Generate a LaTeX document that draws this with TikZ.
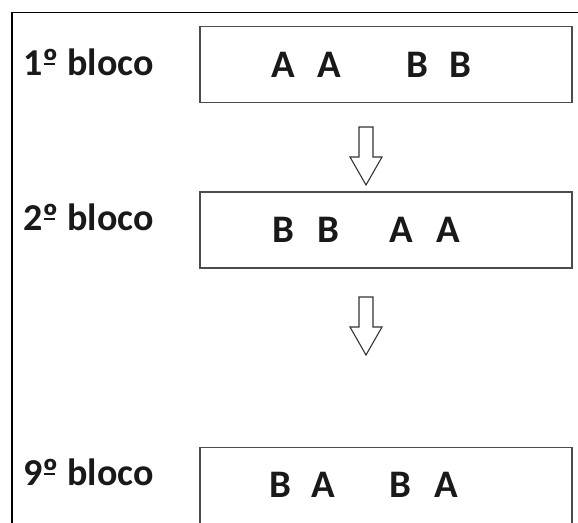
\documentclass[tikz,border=0pt]{standalone}
\usepackage{fontspec}
\setmainfont{Carlito}
\newcommand{\ordbar}{\makebox[0pt][l]{\hspace{0.03em}\rule[0.27em]{0.3em}{0.055em}}º}
\begin{document}
\begin{tikzpicture}[x=1pt,y=-1pt,
  blockbox/.style={draw=black!70,line width=1.8pt,fill=white,minimum width=372pt,minimum height=76pt,inner sep=0pt},
  blocklabel/.style={font=\bfseries\fontsize{38}{40}\selectfont,anchor=base west,inner sep=0pt,text=black!90},
  letters/.style={font=\bfseries\fontsize{39}{41}\selectfont,anchor=base west,inner sep=0pt,text=black!90},
  blockarrow/.style={draw=black!80,line width=1.1pt,fill=white,line join=miter}]
\useasboundingbox (0,0) rectangle (578,522);
\clip (0,0) rectangle (578,522);
\fill[white] (0,0) rectangle (578,522);
% outer frame
\draw[line width=1.4pt] (12,540) -- (12,12.5) -- (600,12.5);
% boxes
\node[blockbox] (b1) at (386,64.5) {};
\node[blockbox] (b2) at (386,230) {};
\node[blockbox] (b3) at (386,485.5) {};
% labels
\node[blocklabel] (l1) at (23,75) {1\ordbar{} bloco};
\node[blocklabel] (l2) at (23,230) {2\ordbar{} bloco};
\node[blocklabel] (l3) at (23,485) {9\ordbar{} bloco};
% letters
\node[letters] (t1) at (271,77) {\makebox[46pt][l]{A}\makebox[89pt][l]{A}\makebox[43pt][l]{B}B};
\node[letters] (t2) at (272,242) {\makebox[45pt][l]{B}\makebox[72pt][l]{B}\makebox[47pt][l]{A}A};
\node[letters] (t3) at (269,497) {\makebox[42pt][l]{B}\makebox[78pt][l]{A}\makebox[45pt][l]{B}A};
% arrows
\coordinate (a1) at (366,127);
\coordinate (a2) at (366,297);
\foreach \c in {a1,a2}{
  \draw[blockarrow] ([xshift=-7pt]\c) -- ([xshift=7pt]\c) -- ([xshift=7pt,yshift=-30pt]\c) -- ([xshift=16pt,yshift=-30pt]\c)
    -- ([yshift=-58pt]\c) -- ([xshift=-16pt,yshift=-30pt]\c) -- ([xshift=-7pt,yshift=-30pt]\c) -- cycle;
}
\end{tikzpicture}
\end{document}
